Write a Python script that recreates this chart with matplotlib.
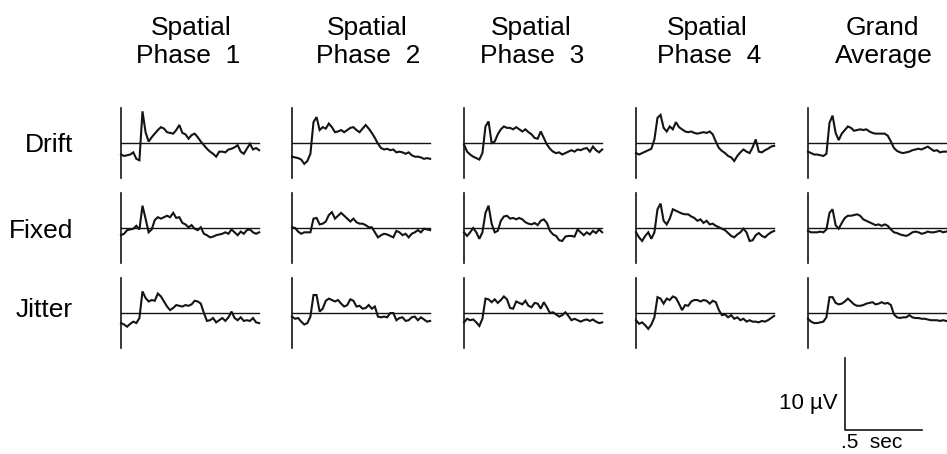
import matplotlib.pyplot as plt
import numpy as np

plt.rcParams['font.family'] = ['Liberation Sans', 'DejaVu Sans']

# column headers (two lines each) and row labels
header_top = ["Spatial", "Spatial", "Spatial", "Spatial", "Grand"]
header_bottom = ["Phase  1", "Phase  2", "Phase  3", "Phase  4", "Average"]
conditions = ["Drift", "Fixed", "Jitter"]

# time axis of every trace (sec), one sample every 20 ms
times = np.linspace(0, 0.9, 46)

# amplitudes in microvolts
drift_p1 = [-1.6, -1.8, -1.7, -1.6, -1.3, -2.2, -2.4, 4.4, 1.5, 0.2, 0.8, 1.3, 1.8, 2.2, 2.0, 1.5,
            1.4, 1.3, 1.8, 2.5, 1.4, 1.2, 0.6, 1.1, 1.3, 0.8, 0.2, -0.3, -0.8, -1.2, -1.5, -1.9,
            -1.2, -1.2, -1.3, -0.9, -0.8, -0.6, -0.3, -1.2, -1.5, -0.8, -0.1, -0.9, -0.7, -1.0]
drift_p2 = [-1.9, -2.0, -2.1, -2.3, -2.9, -2.5, -1.5, 2.9, 3.6, 1.8, 2.2, 2.0, 2.7, 2.2, 1.5, 1.6,
            1.8, 1.5, 1.8, 2.1, 2.2, 1.8, 1.5, 2.0, 2.5, 2.0, 1.4, 0.7, -0.1, -0.7, -0.9, -0.8,
            -1.0, -0.9, -1.3, -1.2, -1.3, -1.5, -1.3, -1.7, -1.9, -1.9, -2.0, -2.2, -2.1, -2.2]
drift_p3 = [-0.2, -1.2, -1.6, -1.9, -2.1, -2.3, -1.4, 2.3, 3.0, 0.0, 0.2, 1.2, 1.9, 2.3, 2.1, 2.1,
            1.9, 2.2, 1.9, 1.6, 1.9, 1.5, 1.2, 0.7, 0.6, 1.6, 0.7, -0.2, -0.8, -1.2, -1.4, -1.3,
            -1.6, -1.4, -1.2, -1.0, -1.2, -0.9, -1.0, -0.8, -0.7, -1.2, -0.5, -1.0, -1.3, -0.9]
drift_p4 = [-1.4, -1.6, -1.4, -1.2, -1.0, -0.8, 0.5, 3.5, 3.9, 2.1, 1.6, 2.3, 1.9, 2.9, 2.2, 1.9,
            1.6, 1.5, 1.6, 1.4, 1.3, 1.4, 1.5, 1.4, 1.6, 1.2, 0.2, -0.7, -1.1, -1.4, -1.8, -2.0,
            -2.5, -1.8, -1.3, -0.9, -1.2, -1.4, -0.6, 0.5, -1.2, -1.3, -1.0, -0.8, -0.5, -0.4]
drift_avg = [-1.2, -1.4, -1.6, -1.6, -1.7, -1.8, -1.5, 2.8, 3.8, 1.4, 0.4, 1.3, 1.8, 2.3, 2.1, 1.7,
             1.8, 1.9, 1.8, 1.9, 1.6, 1.4, 1.3, 1.3, 1.3, 1.3, 1.0, 0.2, -0.7, -1.1, -1.3, -1.4,
             -1.3, -1.2, -1.0, -0.9, -0.8, -0.9, -0.7, -0.5, -0.8, -1.1, -1.0, -1.3, -1.2, -1.2]

fixed_p1 = [-1.0, -0.8, -0.3, -0.2, -0.1, 0.3, -0.2, 3.1, 1.3, -0.6, -0.2, 1.1, 1.5, 1.3, 1.5, 1.7,
            1.5, 2.1, 1.4, 1.5, 0.7, 0.5, 0.1, 0.4, -0.1, -0.3, 0.1, -0.8, -1.0, -1.3, -1.2, -1.0,
            -0.9, -0.8, -0.6, -0.8, -0.2, -0.6, -1.0, -0.5, -0.8, -0.3, -0.2, -0.6, -0.8, -0.6]
fixed_p2 = [0.1, 0.0, -0.5, -0.8, -0.6, -0.6, -0.6, 1.3, 1.4, 0.5, 0.6, 0.9, 1.8, 2.2, 1.3, 1.7,
            2.1, 1.7, 1.3, 0.9, 1.3, 0.8, 0.6, 0.6, 0.4, 0.1, 0.1, -0.6, -1.3, -1.0, -0.8, -0.9,
            -1.1, -1.3, -0.4, -0.6, -1.0, -0.8, -1.3, -0.8, -0.6, -0.3, -0.6, -0.1, -0.2, -0.3]
fixed_p3 = [-0.6, -1.1, -0.6, 0.0, -0.6, -1.5, -0.6, 2.1, 3.1, 0.6, -0.6, -0.4, 1.0, 1.6, 1.7, 1.3,
            1.4, 1.2, 1.4, 1.2, 0.8, 0.6, 0.5, 0.7, 0.4, 1.0, 1.2, 0.7, -0.4, -0.9, -1.1, -1.7,
            -1.8, -1.2, -1.1, -1.1, -1.2, -0.2, -0.6, -1.0, -0.6, -0.9, -0.4, -0.7, -0.2, -0.6]
fixed_p4 = [-0.6, -1.3, -1.8, -1.1, -0.6, -1.5, -0.6, 2.6, 3.4, 1.0, 0.5, 1.3, 2.6, 2.4, 2.2, 2.0,
            1.9, 1.9, 1.6, 1.4, 1.0, 1.2, 0.7, 1.0, 0.5, 0.6, 0.3, 0.1, -0.1, -0.3, -0.7, -1.1,
            -1.3, -0.9, -0.6, -0.1, -0.6, -1.8, -1.7, -1.0, -0.7, -1.1, -1.3, -0.9, -0.6, -0.4]
fixed_avg = [-0.4, -0.6, -0.6, -0.6, -0.5, -0.6, -0.2, 2.1, 2.6, 0.4, -0.1, 0.7, 1.4, 1.7, 1.7, 1.8,
             1.9, 1.7, 1.2, 1.0, 0.8, 0.6, 0.4, 0.5, 0.3, 0.5, 0.3, -0.2, -0.6, -0.7, -0.9, -1.0,
             -1.1, -0.9, -0.6, -0.5, -0.6, -0.8, -0.7, -0.5, -0.6, -0.6, -0.5, -0.4, -0.6, -0.5]

jitter_p1 = [-1.4, -1.6, -1.9, -1.5, -1.2, -1.4, -0.7, 3.0, 2.1, 1.6, 1.8, 1.7, 2.7, 2.3, 1.6, 0.9,
             0.4, 0.7, 1.1, 1.0, 0.9, 1.1, 1.0, 1.2, 1.7, 1.6, 1.3, 0.0, -1.1, -1.0, -0.7, -1.3,
             -1.0, -0.7, -1.1, -0.6, 0.2, -0.7, -1.0, -0.6, -1.1, -1.0, -1.1, -0.7, -1.3, -1.4]
jitter_p2 = [-0.5, -0.8, -0.7, -1.2, -1.6, -1.4, -0.5, 2.5, 2.5, 0.2, 0.6, 1.7, 2.0, 1.8, 1.6, 1.8,
             1.3, 0.9, 1.1, 1.9, 1.7, 0.9, 1.0, 0.6, 0.7, 1.1, 0.6, 0.9, -0.5, -0.6, -0.5, -0.6,
             0.0, 0.0, -1.0, -0.7, -0.6, -1.1, -1.0, -0.6, -0.5, -1.0, -0.6, -0.9, -1.2, -1.1]
jitter_p3 = [-1.3, -0.8, -1.0, -0.9, -1.3, -1.8, -0.8, 2.0, 1.9, 1.5, 1.9, 1.4, 1.8, 2.3, 1.9, 0.7,
             0.6, 1.6, 1.4, 1.2, 1.7, 1.0, 0.8, 1.4, 1.3, 0.6, 1.5, 0.8, 0.0, 0.1, -0.2, -0.5,
             -0.3, 0.1, -0.4, -1.0, -0.8, -1.0, -1.2, -1.0, -0.9, -1.1, -0.9, -1.2, -1.4, -1.3]
jitter_p4 = [-1.0, -1.5, -1.3, -1.7, -2.2, -1.6, -0.6, 2.2, 2.0, 1.3, 2.0, 1.8, 2.3, 2.1, 1.3, 0.4,
             1.1, 1.0, 1.6, 1.8, 1.8, 1.6, 1.8, 1.7, 1.3, 1.7, 1.5, 0.4, -0.3, -0.2, -0.6, -0.3,
             -0.8, -0.6, -1.0, -0.8, -1.2, -1.0, -1.2, -1.2, -1.3, -1.1, -1.2, -1.0, -0.7, -0.4]
jitter_avg = [-0.8, -1.2, -1.4, -1.4, -1.3, -1.2, -0.6, 2.2, 2.2, 1.4, 1.2, 1.3, 1.6, 2.0, 1.6, 1.2,
              1.0, 1.0, 1.1, 1.3, 1.4, 1.5, 1.2, 1.3, 1.5, 1.3, 1.4, 1.1, -0.2, -0.6, -0.7, -0.6,
              -0.6, -0.3, -0.6, -0.7, -0.7, -0.8, -0.8, -0.9, -1.0, -1.0, -1.0, -1.1, -1.0, -1.1]

traces = [
    [drift_p1, drift_p2, drift_p3, drift_p4, drift_avg],
    [fixed_p1, fixed_p2, fixed_p3, fixed_p4, fixed_avg],
    [jitter_p1, jitter_p2, jitter_p3, jitter_p4, jitter_avg],
]

W, H = 947, 454
px_per_sec = 153.5
px_per_uv = 7.2
col_x = [121, 292, 464, 636, 808]     # pixel x of each panel's vertical line
row_y = [143, 228, 313]               # pixel y of each row's baseline
xlim = (-0.02, 0.92)
ylim = (-5.5, 5.5)
ink = "#141414"


def panel_axes(fig, vx, by):
    left = vx + xlim[0] * px_per_sec
    top = by - ylim[1] * px_per_uv
    w = (xlim[1] - xlim[0]) * px_per_sec
    h = (ylim[1] - ylim[0]) * px_per_uv
    ax = fig.add_axes([left / W, 1 - (top + h) / H, w / W, h / H])
    ax.set_xlim(*xlim)
    ax.set_ylim(*ylim)
    ax.axis("off")
    return ax


fig = plt.figure(figsize=(W / 100, H / 100), dpi=100)

label_base = [151.7, 238.3, 316.7]
for r, cond in enumerate(conditions):
    for c in range(len(header_top)):
        ax = panel_axes(fig, col_x[c], row_y[r])
        ax.plot([0, 0], [-4.8, 4.8], color=ink, lw=1.2)
        ax.plot([0, 0.9], [0, 0], color=ink, lw=1.0)
        ax.plot(times, traces[r][c], color=ink, lw=1.5, solid_joinstyle="miter")
    fig.text(73 / W, 1 - label_base[r] / H, cond, ha="right", va="baseline", fontsize=19)

top_x = [191, 367, 531, 707, 882]
bottom_x = [188, 368, 532, 709, 884]
for c in range(len(header_top)):
    fig.text(top_x[c] / W, 1 - 35 / H, header_top[c], ha="center", va="baseline", fontsize=19)
    fig.text(bottom_x[c] / W, 1 - 63 / H, header_bottom[c], ha="center", va="baseline", fontsize=19)

# scale bar: 10 uV by .5 sec
sb = panel_axes(fig, 845, 394)
sb.plot([0, 0, 0.5], [5, -5, -5], color=ink, lw=1.2)
fig.text(838 / W, 1 - 409 / H, "10 \u00b5V", ha="right", va="baseline", fontsize=16)
fig.text(841 / W, 1 - 448.5 / H, ".5  sec", ha="left", va="baseline", fontsize=15)

fig.savefig("out.png", dpi=100)
